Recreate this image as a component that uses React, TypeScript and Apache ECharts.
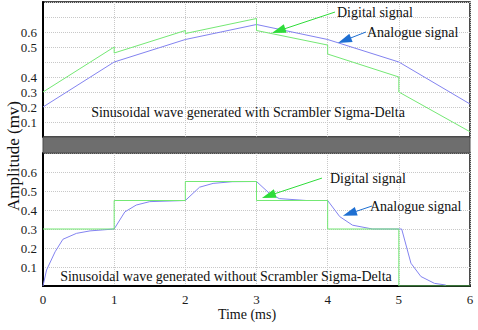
import React, { useEffect, useRef } from "react";
import * as echarts from "echarts";

// ---- Data (time in ms, amplitude in mv) ----
const timeTicks = [0, 1, 2, 3, 4, 5, 6];

// Top panel: with scrambler
const topAnalogueT = [0, 1, 2, 3, 4, 5, 6];
const topAnalogueV = [0.2, 0.5, 0.65, 0.75, 0.65, 0.5, 0.22];
const topDigitalT = [0, 1, 1, 2, 2, 3, 3, 4, 4, 5, 5, 6];
const topDigitalV = [0.3, 0.6, 0.56, 0.71, 0.69, 0.79, 0.71, 0.613, 0.553, 0.4, 0.3, 0.035];
// tick labels shown at 0, 0.1, ... 0.9 on the top axis (as printed in the figure)
const topTickLabels = ["", "0.1", "0.2", "0.3", "0.4", "", "0.5", "0.6", "", ""];

// Bottom panel: without scrambler
const botDigitalT = [0, 1, 1, 2, 2, 3, 3, 4, 4, 5, 5, 6];
const botDigitalV = [0.3, 0.3, 0.45, 0.45, 0.55, 0.55, 0.45, 0.45, 0.3, 0.3, 0, 0];
const botAnalogueT = [0, 0.05, 0.17, 0.28, 0.47, 0.66, 1, 1.15, 1.31, 1.5, 2, 2.2, 2.39, 2.66, 3, 3.18, 3.32, 3.7, 4, 4.17, 4.35, 4.63, 5, 5.04, 5.17, 5.31, 5.5, 5.66];
const botAnalogueV = [0, 0.084, 0.18, 0.246, 0.277, 0.29, 0.3, 0.39, 0.426, 0.444, 0.45, 0.52, 0.54, 0.549, 0.55, 0.488, 0.46, 0.45, 0.45, 0.365, 0.32, 0.3, 0.3, 0.3, 0.12, 0.05, 0.014, 0.005];
const botTickLabels = ["", "0.1", "0.2", "0.3", "0.4", "0.5", "0.6", ""];

// Annotation arrows [startT, startV, endT, endV]
const topDigitalArrow = [4.103, 0.833, 3.31, 0.708];
const topAnalogueArrow = [4.538, 0.7, 4.236, 0.644];
const botDigitalArrow = [3.92, 0.568, 3.17, 0.475];
const botAnalogueArrow = [4.623, 0.421, 4.308, 0.381];

const titleTop = "Sinusoidal wave generated with Scrambler Sigma-Delta";
const titleBottom = "Sinusoidal wave generated without Scrambler Sigma-Delta";

const FONT = "serif";
const GREEN = "#74e874";
const BLUE = "#8383f0";
const ARROW_GREEN = "#2fdc3a";
const ARROW_BLUE = "#1e6fd2";

const zip = (t: number[], v: number[]) => t.map((x, i) => [x, v[i]]);

const arrow = (a: number[], color: string) => ({
  silent: true,
  symbol: ["none", "triangle"],
  symbolSize: [9, 14],
  label: { show: false },
  lineStyle: { color, width: 1, type: "solid" },
  emphasis: { disabled: true },
  data: [[{ coord: [a[0], a[1]] }, { coord: [a[2], a[3]] }]],
});

const txt = (x: number, y: number, text: string, size: number, align: string, rotation = 0) => ({
  type: "text",
  x,
  y,
  rotation,
  z: 20,
  style: { text, fontFamily: FONT, fontSize: size, fill: "#111", align, verticalAlign: "middle" },
});

export default function App() {
  const ref = useRef<HTMLDivElement>(null);
  useEffect(() => {
    if (!ref.current) return;
    const chart = echarts.init(ref.current, null, { renderer: "svg" });
    const L = 43, W = 427;
    const axisLabelStyle = { fontFamily: FONT, fontSize: 13, color: "#1a1a1a" };
    const splitLine = { show: true, lineStyle: { color: "#c8c8c8", type: "dotted", width: 1 } };
    chart.setOption({
      animation: false,
      backgroundColor: "#fff",
      grid: [
        { left: L, top: 2, width: W, height: 135, show: true, borderColor: "#111", borderWidth: 1.5, backgroundColor: "transparent" },
        { left: L, top: 153, width: W, height: 133, show: true, borderColor: "#111", borderWidth: 1.5, backgroundColor: "transparent" },
      ],
      xAxis: [
        {
          type: "value", gridIndex: 0, min: 0, max: 6, interval: 1,
          axisLine: { show: false }, axisTick: { show: false }, axisLabel: { show: false },
          splitLine,
        },
        {
          type: "value", gridIndex: 1, min: 0, max: 6, interval: 1,
          axisLine: { show: true, onZero: false, lineStyle: { color: "#000", width: 2 } },
          axisTick: { show: false },
          axisLabel: { ...axisLabelStyle, margin: 7, formatter: (v: number) => (timeTicks.includes(v) ? String(v) : "") },
          splitLine,
        },
      ],
      yAxis: [
        {
          type: "value", gridIndex: 0, min: 0, max: 0.9, interval: 0.1,
          axisLine: { show: true, onZero: false, lineStyle: { color: "#000", width: 2 } },
          axisTick: { show: false },
          axisLabel: { ...axisLabelStyle, margin: 6, formatter: (v: number) => topTickLabels[Math.round(v * 10)] ?? "" },
          splitLine,
        },
        {
          type: "value", gridIndex: 1, min: 0, max: 0.7, interval: 0.1,
          axisLine: { show: true, onZero: false, lineStyle: { color: "#000", width: 2 } },
          axisTick: { show: false },
          axisLabel: { ...axisLabelStyle, margin: 6, formatter: (v: number) => botTickLabels[Math.round(v * 10)] ?? "" },
          splitLine,
        },
      ],
      series: [
        {
          type: "line", xAxisIndex: 0, yAxisIndex: 0, showSymbol: false, silent: true,
          data: zip(topAnalogueT, topAnalogueV), lineStyle: { color: BLUE, width: 1 },
          markLine: arrow(topAnalogueArrow, ARROW_BLUE),
        },
        {
          type: "line", xAxisIndex: 0, yAxisIndex: 0, showSymbol: false, silent: true,
          data: zip(topDigitalT, topDigitalV), lineStyle: { color: GREEN, width: 1 },
          markLine: arrow(topDigitalArrow, ARROW_GREEN),
        },
        {
          type: "line", xAxisIndex: 1, yAxisIndex: 1, showSymbol: false, silent: true,
          data: zip(botAnalogueT, botAnalogueV), lineStyle: { color: BLUE, width: 1 },
          markLine: arrow(botAnalogueArrow, ARROW_BLUE),
        },
        {
          type: "line", xAxisIndex: 1, yAxisIndex: 1, showSymbol: false, silent: true,
          data: zip(botDigitalT, botDigitalV), lineStyle: { color: GREEN, width: 1 },
          markLine: arrow(botDigitalArrow, ARROW_GREEN),
        },
      ],
      graphic: [
        { type: "rect", shape: { x: L, y: 137, width: W, height: 16 }, style: { fill: "#6e6e6e", stroke: "#4a4a4a", lineWidth: 1 }, z: 10 },
        txt(248, 112, titleTop, 14, "center"),
        txt(226, 276, titleBottom, 14, "center"),
        txt(337, 12, "Digital signal", 14, "left"),
        txt(367, 32, "Analogue signal", 14, "left"),
        txt(330, 178, "Digital signal", 14, "left"),
        txt(370, 206, "Analogue signal", 14, "left"),
        txt(247, 314, "Time (ms)", 14, "center"),
        txt(13, 156, "Amplitude (mv)", 17, "center", Math.PI / 2),
      ],
    });
    return () => chart.dispose();
  }, []);
  return <div ref={ref} style={{ position: "fixed", left: 0, top: 0, width: 478, height: 330 }} />;
}
